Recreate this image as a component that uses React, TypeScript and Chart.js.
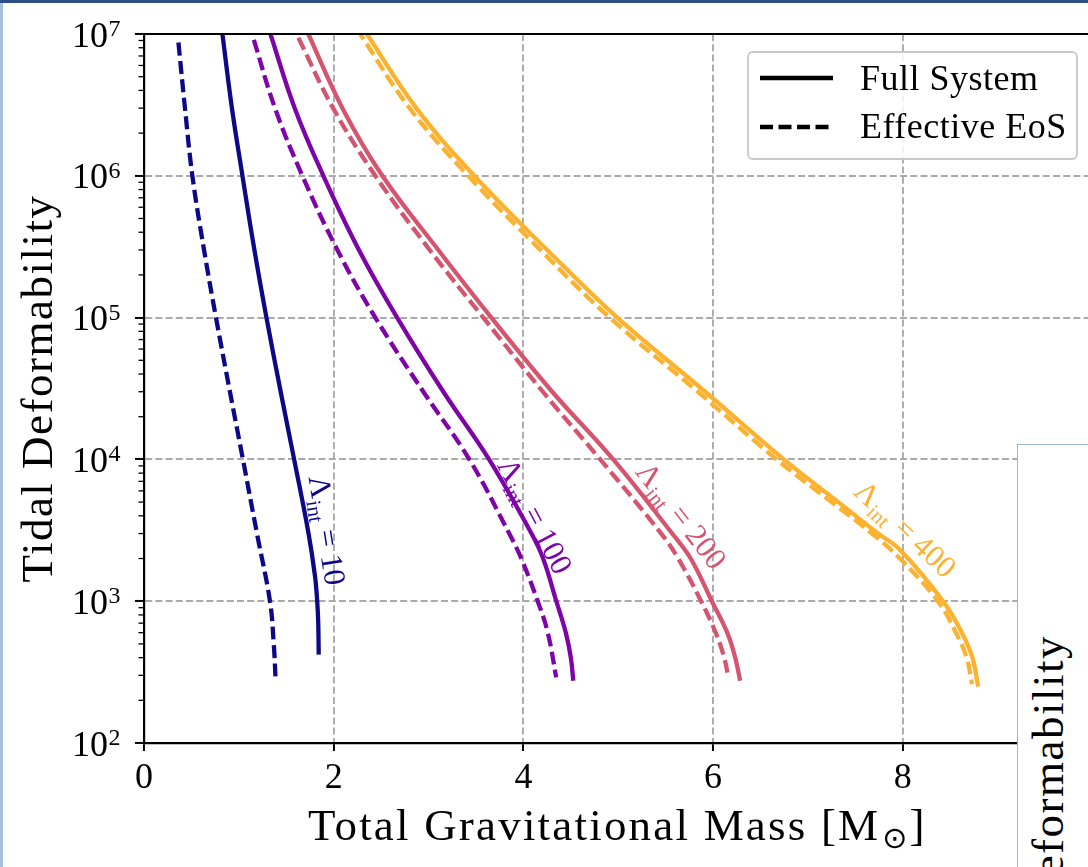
import React, { useEffect, useRef } from 'react';
import { Chart, registerables } from 'chart.js';

Chart.register(...registerables);

const SERIF = '"Liberation Serif", "Times New Roman", serif';

// Interaction strengths and line colours
const LAMBDA_INT = [10, 100, 200, 400];
const LINE_COLORS = ['#0d0887', '#7e03a8', '#d5546e', '#fdb22f'];

// Full system: total gravitational mass [Msun] vs tidal deformability
const FULL_10_MASS = [0.801, 0.827, 0.927, 1.038, 1.164, 1.291, 1.441, 1.583, 1.735, 1.803, 1.826, 1.837, 1.842];
const FULL_10_TIDAL = [1.4e7, 1e7, 3e6, 1e6, 3e5, 1e5, 3e4, 1e4, 3e3, 1.5e3, 1e3, 7e2, 4.2e2];
const FULL_100_MASS = [1.295, 1.333, 1.589, 1.891, 2.266, 2.669, 3.156, 3.638, 4.085, 4.208, 4.347, 4.447, 4.5, 4.526];
const FULL_100_TIDAL = [1.2e7, 1e7, 3e6, 1e6, 3e5, 1e5, 3e4, 1e4, 3e3, 2e3, 1e3, 6e2, 4e2, 2.75e2];
const FULL_200_MASS = [1.694, 1.733, 2.092, 2.513, 3.103, 3.662, 4.304, 4.947, 5.569, 5.764, 5.987, 6.149, 6.233, 6.285];
const FULL_200_TIDAL = [1.15e7, 1e7, 3e6, 1e6, 3e5, 1e5, 3e4, 1e4, 3e3, 2e3, 1e3, 6e2, 4e2, 2.75e2];
const FULL_400_MASS = [2.312, 2.35, 2.871, 3.482, 4.25, 4.99, 5.916, 6.745, 7.32, 7.74, 7.975, 8.425, 8.623, 8.734, 8.794];
const FULL_400_TIDAL = [1.1e7, 1e7, 3e6, 1e6, 3e5, 1e5, 3e4, 1e4, 5e3, 3e3, 2.29e3, 1e3, 6e2, 4e2, 2.5e2];

// Effective EoS
const EFF_10_MASS = [0.363, 0.432, 0.51, 0.633, 0.759, 0.906, 1.043, 1.191, 1.328, 1.368, 1.386];
const EFF_10_TIDAL = [8.7e6, 3e6, 1e6, 3e5, 1e5, 3e4, 1e4, 3e3, 1e3, 5e2, 2.95e2];
const EFF_100_MASS = [1.158, 1.381, 1.67, 2.039, 2.439, 2.945, 3.43, 3.851, 3.978, 4.151, 4.257, 4.346];
const EFF_100_TIDAL = [9.1e6, 3e6, 1e6, 3e5, 1e5, 3e4, 1e4, 3e3, 2e3, 1e3, 6e2, 2.9e2];
const EFF_200_MASS = [1.628, 1.994, 2.439, 3.012, 3.577, 4.205, 4.81, 5.453, 5.632, 5.874, 6.027, 6.117, 6.16];
const EFF_200_TIDAL = [9.4e6, 3e6, 1e6, 3e5, 1e5, 3e4, 1e4, 3e3, 2e3, 1e3, 6e2, 4e2, 2.92e2];
const EFF_400_MASS = [2.242, 2.28, 2.8, 3.418, 4.18, 4.91, 5.84, 6.67, 7.25, 7.675, 7.97, 8.37, 8.56, 8.673, 8.73];
const EFF_400_TIDAL = [1.1e7, 1e7, 3e6, 1e6, 3e5, 1e5, 3e4, 1e4, 5e3, 3e3, 2.0e3, 1e3, 6e2, 4e2, 2.6e2];

const X_TICKS = [0, 2, 4, 6, 8, 10];
const Y_EXPONENTS = [2, 3, 4, 5, 6, 7];
const LEGEND_LABELS = ['Full System', 'Effective EoS'];
const X_TITLE = 'Total Gravitational Mass [M';
const X_TITLE_SUB = '\u2299';
const X_TITLE_END = ']';
const Y_TITLE = 'Tidal Deformability';

// Curve annotations (data coordinates of label centre, rotation in degrees)
const LABEL_MASS = [1.934, 4.125, 5.669, 8.03];
const LABEL_TIDAL = [3160, 4000, 4030, 3240];
const LABEL_ANGLE = [81, 62, 52, 43];

const FULL_MASS = [FULL_10_MASS, FULL_100_MASS, FULL_200_MASS, FULL_400_MASS];
const FULL_TIDAL = [FULL_10_TIDAL, FULL_100_TIDAL, FULL_200_TIDAL, FULL_400_TIDAL];
const EFF_MASS = [EFF_10_MASS, EFF_100_MASS, EFF_200_MASS, EFF_400_MASS];
const EFF_TIDAL = [EFF_10_TIDAL, EFF_100_TIDAL, EFF_200_TIDAL, EFF_400_TIDAL];

function toPoints(ms: number[], ls: number[]) {
  return ms.map((m, i) => ({ x: m, y: ls[i] }));
}

function drawLambdaLabel(ctx: CanvasRenderingContext2D, x: number, y: number, angle: number, color: string, value: number) {
  const main = `31px ${SERIF}`;
  const sub = `21px ${SERIF}`;
  ctx.save();
  ctx.translate(x, y);
  ctx.rotate((angle * Math.PI) / 180);
  ctx.fillStyle = color;
  ctx.textAlign = 'left';
  ctx.textBaseline = 'alphabetic';
  ctx.font = main;
  const wL = ctx.measureText('\u039B').width;
  const rest = ' = ' + value;
  const wR = ctx.measureText(rest).width;
  ctx.font = sub;
  const wS = ctx.measureText('int').width;
  const total = wL + wS + 2 + wR;
  let cx = -total / 2;
  const base = 10.5;
  ctx.font = main;
  ctx.fillText('\u039B', cx, base);
  cx += wL + 1;
  ctx.font = sub;
  ctx.fillText('int', cx, base + 6);
  cx += wS + 1;
  ctx.font = main;
  ctx.fillText(rest, cx, base);
  ctx.restore();
}

const decorPlugin = {
  id: 'decor',
  afterDraw(chart: any) {
    const ctx: CanvasRenderingContext2D = chart.ctx;
    const area = chart.chartArea;
    const xs = chart.scales.x;
    const ys = chart.scales.y;
    ctx.save();

    // top spine
    ctx.strokeStyle = '#000';
    ctx.lineWidth = 2;
    ctx.beginPath();
    ctx.moveTo(area.left - 1, area.top);
    ctx.lineTo(area.right, area.top);
    ctx.stroke();

    // minor y ticks
    ctx.lineWidth = 1.3;
    for (let e = 2; e < 7; e++) {
      for (let k = 2; k <= 9; k++) {
        const py = ys.getPixelForValue(k * Math.pow(10, e));
        ctx.beginPath();
        ctx.moveTo(area.left - 5.5, py);
        ctx.lineTo(area.left, py);
        ctx.stroke();
      }
    }

    // y tick labels 10^n
    ctx.fillStyle = '#000';
    ctx.textBaseline = 'alphabetic';
    for (const e of Y_EXPONENTS) {
      const py = ys.getPixelForValue(Math.pow(10, e));
      ctx.font = `36px ${SERIF}`;
      ctx.textAlign = 'right';
      ctx.fillText('10', 108, py + 12.5);
      ctx.font = `24px ${SERIF}`;
      ctx.textAlign = 'left';
      ctx.fillText(String(e), 108.5, py + 2);
    }

    // x title with subscript
    const anyCtx = ctx as any;
    anyCtx.letterSpacing = '2.2px';
    ctx.font = `45px ${SERIF}`;
    const w1 = ctx.measureText(X_TITLE).width;
    const w3 = ctx.measureText(X_TITLE_END).width;
    anyCtx.letterSpacing = '0px';
    ctx.font = `30px "DejaVu Sans", sans-serif`;
    const w2 = ctx.measureText(X_TITLE_SUB).width;
    const tot = w1 + w2 + w3 + 4;
    let tx = (area.left + area.right) / 2 - tot / 2 - 1;
    const tb = 840;
    ctx.textAlign = 'left';
    anyCtx.letterSpacing = '2.2px';
    ctx.font = `45px ${SERIF}`;
    ctx.fillText(X_TITLE, tx, tb);
    tx += w1 + 2;
    anyCtx.letterSpacing = '0px';
    ctx.font = `30px "DejaVu Sans", sans-serif`;
    ctx.fillText(X_TITLE_SUB, tx, tb + 8);
    tx += w2 + 2;
    ctx.font = `45px ${SERIF}`;
    ctx.fillText(X_TITLE_END, tx, tb);

    // y title
    ctx.save();
    ctx.translate(52, (area.top + area.bottom) / 2);
    ctx.rotate(-Math.PI / 2);
    ctx.textAlign = 'center';
    anyCtx.letterSpacing = '1.5px';
    ctx.font = `45px ${SERIF}`;
    ctx.fillText(Y_TITLE, 0, 0);
    anyCtx.letterSpacing = '0px';
    ctx.restore();

    // curve labels
    for (let i = 0; i < LAMBDA_INT.length; i++) {
      drawLambdaLabel(
        ctx,
        xs.getPixelForValue(LABEL_MASS[i]),
        ys.getPixelForValue(LABEL_TIDAL[i]),
        LABEL_ANGLE[i],
        LINE_COLORS[i],
        LAMBDA_INT[i]
      );
    }

    // legend
    const lx = area.right - 344.5;
    const ly = area.top + 18;
    const lw = 329;
    const lh = 107;
    ctx.beginPath();
    (ctx as any).roundRect(lx, ly, lw, lh, 5);
    ctx.fillStyle = 'rgba(255,255,255,0.85)';
    ctx.fill();
    ctx.strokeStyle = '#c8c8c8';
    ctx.lineWidth = 1.8;
    ctx.stroke();

    ctx.strokeStyle = '#000';
    ctx.lineWidth = 4.3;
    ctx.beginPath();
    ctx.moveTo(lx + 12, ly + 26);
    ctx.lineTo(lx + 85, ly + 26);
    ctx.stroke();
    ctx.setLineDash([13, 5.5]);
    ctx.beginPath();
    ctx.moveTo(lx + 12, ly + 75);
    ctx.lineTo(lx + 85, ly + 75);
    ctx.stroke();
    ctx.setLineDash([]);

    ctx.fillStyle = '#000';
    ctx.font = `36px ${SERIF}`;
    ctx.textAlign = 'left';
    anyCtx.letterSpacing = '0.5px';
    ctx.fillText(LEGEND_LABELS[0], lx + 112, ly + 38);
    ctx.fillText(LEGEND_LABELS[1], lx + 112, ly + 86);
    anyCtx.letterSpacing = '0px';

    ctx.restore();
  },
};

export default function App() {
  const ref = useRef<HTMLCanvasElement | null>(null);

  useEffect(() => {
    if (!ref.current) return;
    const datasets: any[] = [];
    for (let i = 0; i < LAMBDA_INT.length; i++) {
      datasets.push({
        label: `Full ${LAMBDA_INT[i]}`,
        data: toPoints(FULL_MASS[i], FULL_TIDAL[i]),
        borderColor: LINE_COLORS[i],
        borderWidth: 4.3,
        pointRadius: 0,
        fill: false,
        tension: 0.4,
      });
      datasets.push({
        label: `Effective ${LAMBDA_INT[i]}`,
        data: toPoints(EFF_MASS[i], EFF_TIDAL[i]),
        borderColor: LINE_COLORS[i],
        borderWidth: 4.3,
        borderDash: [13, 5.5],
        pointRadius: 0,
        fill: false,
        tension: 0.4,
      });
    }

    const chart = new Chart(ref.current, {
      type: 'line',
      data: { datasets },
      options: {
        responsive: false,
        animation: false,
        events: [],
        layout: { padding: { top: 34, right: 7.5, left: 0, bottom: 0 } },
        plugins: {
          legend: { display: false },
          tooltip: { enabled: false },
          title: { display: false },
        },
        scales: {
          x: {
            type: 'linear',
            min: 0,
            max: 10,
            afterBuildTicks: (s: any) => {
              s.ticks = X_TICKS.map((v) => ({ value: v }));
            },
            afterFit: (s: any) => {
              s.height = 124;
              s.paddingLeft = 0;
              s.paddingRight = 0;
            },
            grid: {
              color: '#aaaaaa',
              lineWidth: 1.9,
              tickColor: '#000',
              tickLength: 8,
              tickWidth: 2,
            },
            border: { display: true, color: '#000', width: 2.2, dash: [7, 3.2] },
            ticks: {
              font: { family: SERIF, size: 36 },
              color: '#000',
              padding: 6,
              maxRotation: 0,
              autoSkip: false,
              callback: (v: any) => String(v),
            },
          },
          y: {
            type: 'logarithmic',
            min: 100,
            max: 1e7,
            afterBuildTicks: (s: any) => {
              s.ticks = Y_EXPONENTS.map((e) => ({ value: Math.pow(10, e), major: true }));
            },
            afterFit: (s: any) => {
              s.width = 144;
              s.paddingTop = 0;
              s.paddingBottom = 0;
            },
            grid: {
              color: '#aaaaaa',
              lineWidth: 1.9,
              tickColor: '#000',
              tickLength: 9,
              tickWidth: 2,
            },
            border: { display: true, color: '#000', width: 2.2, dash: [7, 3.2] },
            ticks: { display: false },
          },
        },
      } as any,
      plugins: [decorPlugin],
    });
    return () => chart.destroy();
  }, []);

  return (
    <div style={{ position: 'fixed', left: 0, top: 0, width: 1088, height: 867, overflow: 'hidden', background: '#fff' }}>
      <canvas ref={ref} width={1100} height={867} style={{ position: 'absolute', left: 0, top: 0, width: 1100, height: 867 }} />
      <div style={{ position: 'absolute', left: 0, top: 0, width: 1088, height: 3, background: '#2b4f86' }} />
      <div style={{ position: 'absolute', left: 0, top: 3, width: 3, height: 864, background: '#a7bfdf' }} />
      <div
        style={{
          position: 'absolute',
          left: 1017,
          top: 444,
          width: 200,
          height: 500,
          background: '#fff',
          borderLeft: '1px solid #9fb3d6',
          borderTop: '1px solid #9fb3d6',
          overflow: 'hidden',
        }}
      >
        <div
          style={{
            position: 'absolute',
            left: 8,
            top: 578,
            whiteSpace: 'nowrap',
            fontFamily: SERIF,
            fontSize: 45,
            lineHeight: '45px',
            letterSpacing: '1.5px',
            color: '#000',
            transform: 'rotate(-90deg)',
            transformOrigin: '0 0',
          }}
        >
          {Y_TITLE}
        </div>
      </div>
    </div>
  );
}
